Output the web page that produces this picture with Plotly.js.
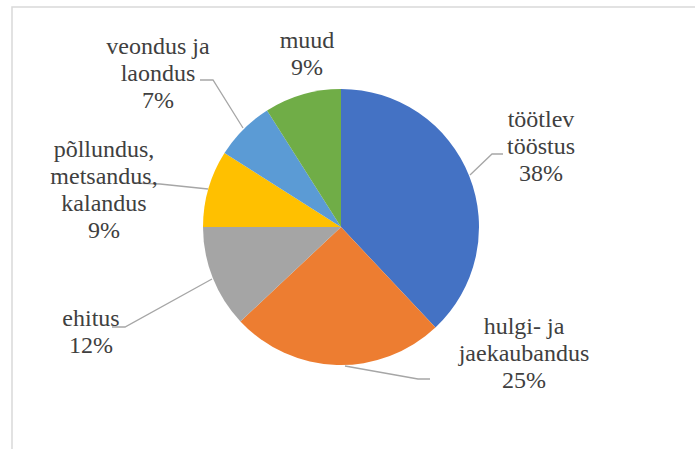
<!DOCTYPE html>
<html><head><meta charset="utf-8">
<script src="https://cdn.plot.ly/plotly-3.0.1.min.js"></script>
</head><body style="margin:0"><div id="chart"></div>
<script>
var categories = ["töötlev<br>tööstus", "hulgi- ja<br>jaekaubandus", "ehitus", "põllundus,<br>metsandus,<br>kalandus", "veondus ja<br>laondus", "muud"];
var values = [38, 25, 12, 9, 7, 9];
var colors = ["#4472C4", "#ED7D31", "#A5A5A5", "#FFC000", "#5B9BD5", "#70AD47"];

var W = 695, H = 449;
var cx = 341, cy = 227, R = 138;

// label anchors (pixel position of first text line center) and leader lines
var labelPos = [[541, 121], [524, 328], [91, 320], [104, 151], [158, 48], [307, 42]];
var leaders = [
  [[470,175],[492,154],[503,154]],
  [[345,366],[418,379],[430,379]],
  [[112,327],[125,327],[212,279]],
  [[135,183],[160,184],[208,189]],
  [[200,80],[213,80],[243,128]]
];

var total = values.reduce(function(a,b){return a+b;},0);
var tx = [], ty = [], tt = [];
categories.forEach(function(c, i){
  var lines = c.split("<br>");
  lines.push(Math.round(values[i]/total*100) + "%");
  lines.forEach(function(t, j){
    tx.push(labelPos[i][0]); ty.push(labelPos[i][1] + j*27); tt.push(t);
  });
});

var traces = [];
traces.push({type:'scatter', mode:'lines', x:[12,12,720], y:[470,7,7], line:{color:'#d9d9d9', width:1.5}, showlegend:false});
leaders.forEach(function(l){
  traces.push({type:'scatter', mode:'lines', x:l.map(function(q){return q[0];}), y:l.map(function(q){return q[1];}),
    line:{color:'#a6a6a6', width:1.3}, showlegend:false});
});
traces.push({type:'pie', values:values, sort:false, direction:'clockwise', rotation:0,
  marker:{colors:colors}, textinfo:'none',
  domain:{x:[(cx-R)/W, (cx+R)/W], y:[(H-cy-R)/H, (H-cy+R)/H]}});
traces.push({type:'scatter', mode:'text', x:tx, y:ty, text:tt, textposition:'middle center',
  textfont:{family:'Liberation Serif', size:24, color:'#404040'}, showlegend:false, cliponaxis:false});

Plotly.newPlot('chart', traces, {width:W, height:H, margin:{l:0,r:0,t:0,b:0},
  font:{family:'Liberation Serif'},
  xaxis:{range:[0,W], visible:false}, yaxis:{range:[H,0], visible:false},
  showlegend:false}, {staticPlot:true});
</script></body></html>
